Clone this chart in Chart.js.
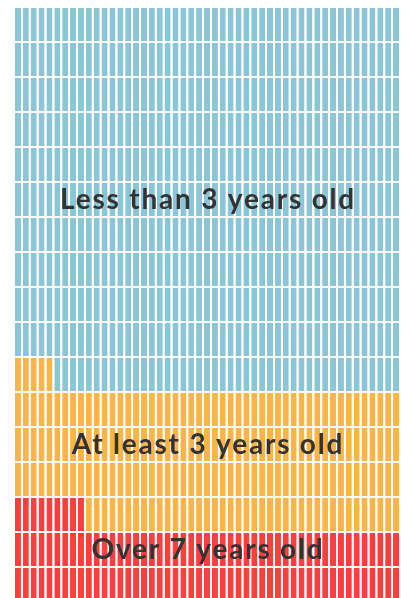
<!DOCTYPE html>
<html>
<head>
<meta charset="utf-8">
<script src="https://cdn.jsdelivr.net/npm/chart.js@4.4.0/dist/chart.umd.min.js"></script>
<style>
  html, body { margin: 0; padding: 0; background: #fff; overflow: hidden; }
  #wrap { width: 401px; height: 610px; position: relative; }
</style>
</head>
<body>
<div id="wrap"><canvas id="waffle"></canvas></div>
<script>
// waffle grid, filled from bottom-left, row by row upward
const nCols = 49;
const nRows = 17;
const categories = ['Over 7 years old', 'At least 3 years old', 'Less than 3 years old'];
const cellCounts = [107, 192, 534];
const colors = ['#fe3d3d', '#fdb446', '#8bc6d7'];
const labelRows = [1.5, 4.5, 11.5];

function cellColor(row, col) {
    let idx = row * nCols + col;
    let acc = 0;
    for (let i = 0; i < cellCounts.length; i++) {
        acc += cellCounts[i];
        if (idx < acc) return colors[i];
    }
    return colors[colors.length - 1];
}

let colLabels = [];
for (let c = 0; c < nCols; c++) colLabels.push(String(c + 1));

let datasets = [];
for (let r = 0; r < nRows; r++) {
    let bg = [];
    for (let c = 0; c < nCols; c++) bg.push(cellColor(r, c));
    datasets.push({
        data: new Array(nCols).fill(1),
        backgroundColor: bg,
        borderColor: '#ffffff',
        borderWidth: { top: 1, bottom: 1, left: 0, right: 0 },
        borderSkipped: false,
        barPercentage: 1,
        categoryPercentage: 6 / 7.875
    });
}

const labelPlugin = {
    id: 'waffleLabels',
    afterDatasetsDraw(chart) {
        let ctx = chart.ctx;
        let x = chart.scales.x;
        let y = chart.scales.y;
        let cx = (x.left + x.right) / 2;
        ctx.save();
        ctx.fillStyle = '#333333';
        ctx.font = 'bold 28px Lato';
        ctx.letterSpacing = '1.8px';
        ctx.textAlign = 'center';
        ctx.textBaseline = 'middle';
        categories.forEach((txt, i) => {
            ctx.fillText(txt, cx + 1, y.getPixelForValue(labelRows[i]));
        });
        ctx.restore();
    }
};

new Chart(document.getElementById('waffle').getContext('2d'), {
    type: 'bar',
    data: { labels: colLabels, datasets: datasets },
    options: {
        responsive: true,
        maintainAspectRatio: false,
        animation: false,
        layout: { padding: { left: 14, right: 1, top: 7, bottom: 8 } },
        plugins: { legend: { display: false }, tooltip: { enabled: false } },
        scales: {
            x: { stacked: true, display: false, grid: { display: false } },
            y: { stacked: true, display: false, min: 0, max: nRows, grid: { display: false } }
        }
    },
    plugins: [labelPlugin]
});
</script>
</body>
</html>
